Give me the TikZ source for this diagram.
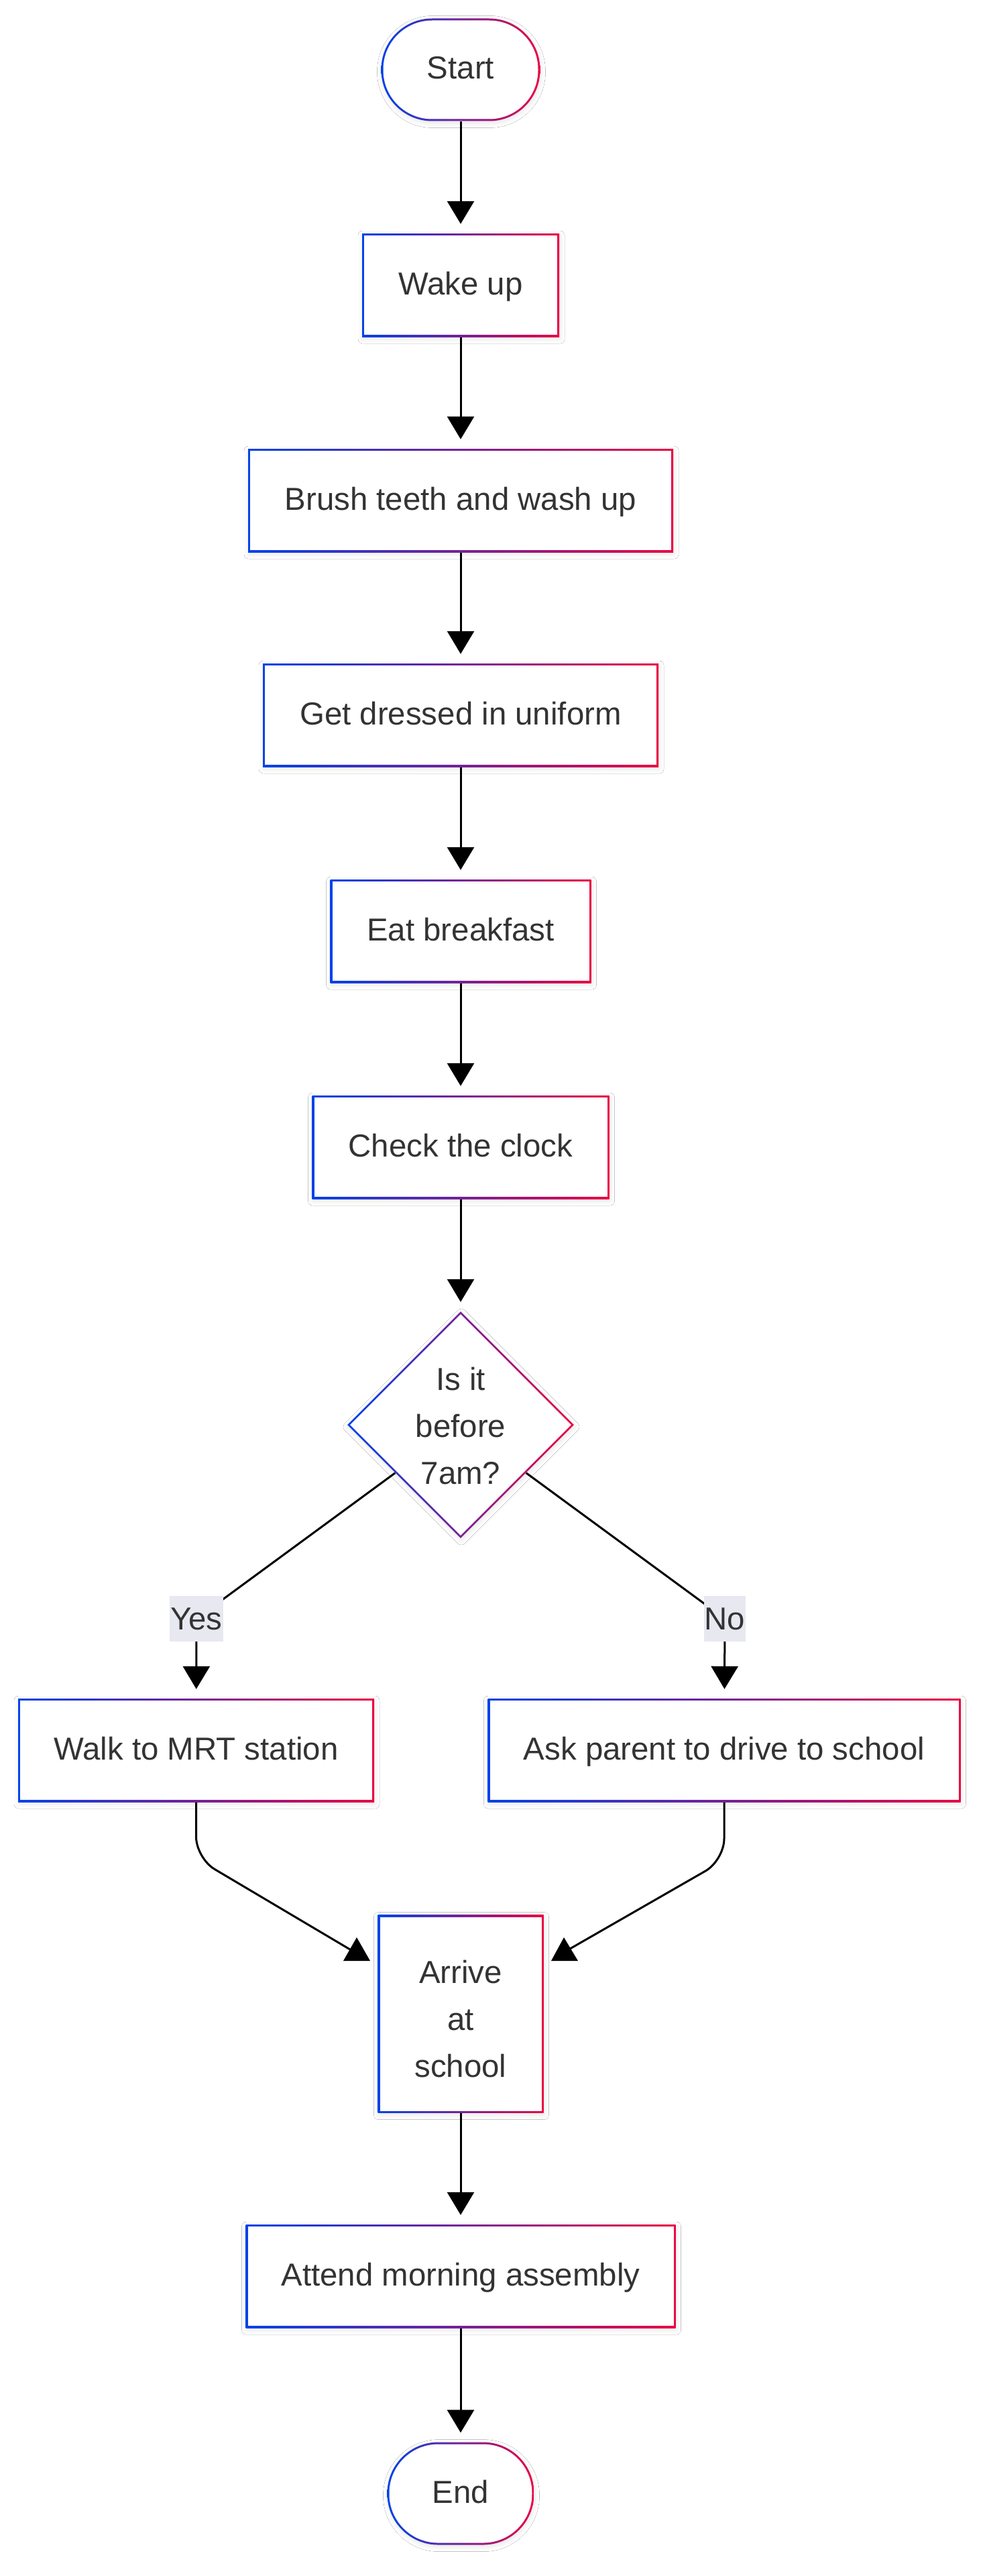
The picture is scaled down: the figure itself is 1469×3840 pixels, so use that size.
\documentclass[tikz,border=0pt]{standalone}
\usepackage{fontspec}
\setmainfont{Liberation Sans}
\usetikzlibrary{arrows.meta,shapes.geometric,calc,shadows.blur}
\definecolor{gA}{HTML}{0042EB}
\definecolor{gB}{HTML}{EB0042}
\definecolor{txt}{HTML}{333333}
\definecolor{lblbg}{RGB}{232,232,241}
\pgfdeclarelayer{bg}
\pgfsetlayers{bg,main}
\newcommand{\topstrut}[1]{\rule{0pt}{#1}}
\tikzset{
  base/.style={text=txt,
    font=\fontsize{47.4}{70}\selectfont, align=center, inner sep=0pt,
    execute at begin node=\strut, execute at end node=\strut,
    blur shadow={shadow xshift=1pt, shadow yshift=-3pt, shadow opacity=10, shadow blur radius=7pt}},
  box/.style={base, rectangle, minimum height=154pt,
    path picture={\shade[left color=gA, right color=gB] (path picture bounding box.south west) rectangle (path picture bounding box.north east);
      \fill[white] ([shift={(3pt,-3pt)}]path picture bounding box.north west) rectangle ([shift={(-3pt,3pt)}]path picture bounding box.south east);}},
  term/.style={base, rectangle, rounded corners=76pt, minimum height=153pt,
    path picture={\shade[left color=gA, right color=gB, sharp corners] (path picture bounding box.south west) rectangle (path picture bounding box.north east);
      \fill[white, rounded corners=73pt] ([shift={(3pt,-3pt)}]path picture bounding box.north west) rectangle ([shift={(-3pt,3pt)}]path picture bounding box.south east);}},
  dec/.style={base, diamond, aspect=1, minimum size=338pt, inner sep=-14pt,
    path picture={\shade[left color=gA, right color=gB] (path picture bounding box.south west) rectangle (path picture bounding box.north east);
      \fill[white] ($(path picture bounding box.west)+(4pt,0pt)$) -- ($(path picture bounding box.north)+(0pt,-4pt)$) -- ($(path picture bounding box.east)+(-4pt,0pt)$) -- ($(path picture bounding box.south)+(0pt,4pt)$) -- cycle;}},
  lbl/.style={fill=lblbg, text=txt, font=\fontsize{47.4}{70}\selectfont,
    inner xsep=1pt, inner ysep=0pt, minimum height=68pt},
  ln/.style={draw=black, line width=3pt},
  arr/.style={ln, -{Triangle[length=34pt,width=40pt]}, shorten >=14pt},
}
\begin{document}
\begin{tikzpicture}[x=1pt,y=-1pt]
\useasboundingbox (0,0) rectangle (1469,3840);
% nodes
\node[term, minimum width=237pt] (start) at (687,104) {Start};
\node[box, minimum width=294pt] (wake) at (687,425) {Wake up};
\node[box, minimum width=634pt] (brush) at (687,746) {Brush teeth and wash up};
\node[box, minimum width=590pt] (dress) at (687,1066) {Get dressed in uniform};
\node[box, minimum width=389pt] (eat) at (687,1388) {Eat breakfast};
\node[box, minimum width=443pt] (check) at (687,1710) {Check the clock};
\node[dec] (dia) at (687,2124) {\topstrut{57pt}Is it\\before\\7am?};
\node[box, minimum width=531pt] (walk) at (292.5,2609) {Walk to MRT station};
\node[box, minimum width=705pt] (ask) at (1080,2609) {Ask parent to drive to school};
\node[box, minimum width=247pt, minimum height=295pt] (arrive) at (687,3002) {\topstrut{69pt}Arrive\\at\\school};
\node[box, minimum width=641pt] (attend) at (687,3393) {Attend morning assembly};
\node[term, minimum width=219pt] (end) at (687,3717) {End};
\node[lbl] (yes) at (293,2413) {Yes};
\node[lbl] (no) at (1081,2413) {No};
\coordinate (mL) at (522,2906);
\coordinate (mR) at (850,2905);
\begin{pgfonlayer}{bg}
\fill[white] (0,0) rectangle (1469,3840);
\draw[arr] (start) -- (wake);
\draw[arr] (wake) -- (brush);
\draw[arr] (brush) -- (dress);
\draw[arr] (dress) -- (eat);
\draw[arr] (eat) -- (check);
\draw[arr] (check) -- (dia);
\draw[arr] (dia) -- (yes.center) -- (walk);
\draw[arr] (dia) -- (no.center) -- (ask);
\draw[ln, rounded corners=32pt] (walk.south) -- (292.5,2770) -- (mL);
\draw[ln, rounded corners=32pt] (ask.south) -- (1080,2773) -- (mR);
\fill[black] (532,2888) -- (552,2923) -- (512,2923) -- cycle;
\fill[black] (841,2888) -- (862,2923) -- (822,2923) -- cycle;
\draw[arr] (arrive) -- (attend);
\draw[arr] (attend) -- (end);
\end{pgfonlayer}
\end{tikzpicture}
\end{document}
